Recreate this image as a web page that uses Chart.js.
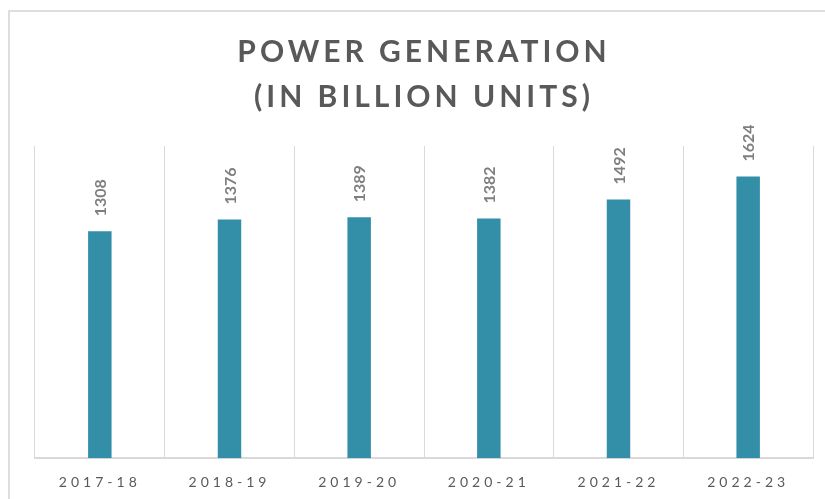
<!DOCTYPE html>
<html>
<head>
<meta charset="utf-8">
<script src="https://cdn.jsdelivr.net/npm/chart.js@4"></script>
<style>
  html, body { margin: 0; padding: 0; background: #fff; overflow: hidden; }
  #wrap { position: relative; width: 825px; height: 499px; }
  #frame {
    position: absolute; left: 8px; top: 10px; width: 900px; height: 600px;
    border-left: 2px solid #dedede; border-top: 2px solid #dedede;
  }
  canvas { position: absolute; left: 0; top: 0; }
</style>
</head>
<body>
<div id="wrap">
  <div id="frame"></div>
  <canvas id="powerChart" width="825" height="499"></canvas>
</div>
<script>
// values
const years = ["2017-18", "2018-19", "2019-20", "2020-21", "2021-22", "2022-23"];
const generation = [1308, 1376, 1389, 1382, 1492, 1624];
const titleLines = ["POWER GENERATION", "(IN BILLION UNITS)"];

// Calibri-ish letter spacing for title + ticks, plain for value labels
const spacedText = {
  id: "spacedText",
  beforeDraw(chart) {
    chart.ctx.letterSpacing = "4px";
  },
  beforeDatasetsDraw(chart) {
    chart.ctx.letterSpacing = "0px";
  },
  afterDatasetsDraw(chart) {
    const ctx = chart.ctx;
    const meta = chart.getDatasetMeta(0);
    ctx.save();
    ctx.font = "bold 16px Lato";
    ctx.fillStyle = "#7f7f7f";
    ctx.textAlign = "left";
    ctx.textBaseline = "middle";
    meta.data.forEach((bar, i) => {
      ctx.save();
      ctx.translate(bar.x + 1, bar.y - 15);
      ctx.rotate(-Math.PI / 2);
      ctx.fillText(String(generation[i]), 0, 0);
      ctx.restore();
    });
    ctx.restore();
  }
};

new Chart(document.getElementById("powerChart").getContext("2d"), {
  type: "bar",
  data: {
    labels: years,
    datasets: [{
      label: "Power generation",
      data: generation,
      backgroundColor: "#338ea8",
      barPercentage: 0.181,
      categoryPercentage: 1
    }]
  },
  options: {
    responsive: false,
    animation: false,
    layout: { padding: { left: 35, right: 12, top: 0, bottom: -8 } },
    scales: {
      x: {
        grid: { color: "#d9d9d9", lineWidth: 1, drawTicks: false },
        border: { color: "#d9d9d9", width: 2 },
        ticks: { color: "#595959", font: { family: "Lato", size: 14 }, padding: 16 }
      },
      y: {
        display: false,
        min: 0,
        max: 1800
      }
    },
    plugins: {
      legend: { display: false },
      tooltip: { enabled: false },
      title: {
        display: true,
        text: titleLines,
        color: "#595959",
        font: { family: "Lato", size: 30, weight: "bold", lineHeight: 1.5 },
        padding: { top: 30, bottom: 26 }
      }
    }
  },
  plugins: [spacedText]
});
</script>
</body>
</html>
